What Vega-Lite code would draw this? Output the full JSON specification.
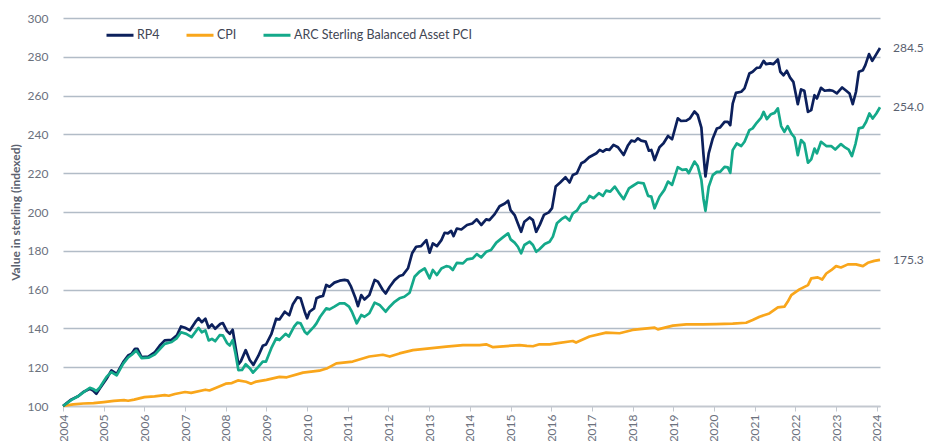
{
"$schema": "https://vega.github.io/schema/vega-lite/v6.json",
"width": 817, "height": 388,
"autosize": {"type": "none"},
"padding": {"left": 63, "top": 18, "right": 45, "bottom": 35},
"background": "white",
"config": {"view": {"stroke": null}, "font": "Lato"},
"datasets": {
"lines": [
{"series":"CPI","year":2004.0,"value":100},{"series":"CPI","year":2004.25,"value":100.8},{"series":"CPI","year":2004.5,"value":101.3},{"series":"CPI","year":2004.75,"value":101.5},{"series":"CPI","year":2005.0,"value":102},{"series":"CPI","year":2005.25,"value":102.6},{"series":"CPI","year":2005.5,"value":103},{"series":"CPI","year":2005.6,"value":102.7},{"series":"CPI","year":2005.75,"value":103.3},{"series":"CPI","year":2006.0,"value":104.6},{"series":"CPI","year":2006.25,"value":105},{"series":"CPI","year":2006.5,"value":105.6},{"series":"CPI","year":2006.6,"value":105.3},{"series":"CPI","year":2006.75,"value":106.2},{"series":"CPI","year":2007.0,"value":107.2},{"series":"CPI","year":2007.15,"value":106.8},{"series":"CPI","year":2007.5,"value":108.4},{"series":"CPI","year":2007.6,"value":108},{"series":"CPI","year":2007.75,"value":109.3},{"series":"CPI","year":2008.0,"value":111.5},{"series":"CPI","year":2008.15,"value":111.8},{"series":"CPI","year":2008.3,"value":113.2},{"series":"CPI","year":2008.5,"value":112.5},{"series":"CPI","year":2008.62,"value":111.5},{"series":"CPI","year":2008.75,"value":112.6},{"series":"CPI","year":2009.0,"value":113.5},{"series":"CPI","year":2009.32,"value":115},{"series":"CPI","year":2009.5,"value":114.8},{"series":"CPI","year":2009.9,"value":117.2},{"series":"CPI","year":2010.3,"value":118.2},{"series":"CPI","year":2010.5,"value":119.5},{"series":"CPI","year":2010.72,"value":122},{"series":"CPI","year":2011.12,"value":122.9},{"series":"CPI","year":2011.53,"value":125.5},{"series":"CPI","year":2011.86,"value":126.4},{"series":"CPI","year":2012.03,"value":125.5},{"series":"CPI","year":2012.27,"value":127.1},{"series":"CPI","year":2012.6,"value":128.8},{"series":"CPI","year":2013.01,"value":129.7},{"series":"CPI","year":2013.42,"value":130.6},{"series":"CPI","year":2013.83,"value":131.4},{"series":"CPI","year":2014.24,"value":131.4},{"series":"CPI","year":2014.4,"value":131.8},{"series":"CPI","year":2014.57,"value":130.3},{"series":"CPI","year":2014.9,"value":130.9},{"series":"CPI","year":2015.22,"value":131.4},{"series":"CPI","year":2015.4,"value":131},{"series":"CPI","year":2015.55,"value":130.8},{"series":"CPI","year":2015.71,"value":131.8},{"series":"CPI","year":2015.96,"value":131.8},{"series":"CPI","year":2016.12,"value":132.3},{"series":"CPI","year":2016.53,"value":133.5},{"series":"CPI","year":2016.61,"value":132.7},{"series":"CPI","year":2016.94,"value":135.8},{"series":"CPI","year":2017.35,"value":137.8},{"series":"CPI","year":2017.68,"value":137.5},{"series":"CPI","year":2018.0,"value":139.2},{"series":"CPI","year":2018.54,"value":140.4},{"series":"CPI","year":2018.62,"value":139.5},{"series":"CPI","year":2018.99,"value":141.4},{"series":"CPI","year":2019.32,"value":142.1},{"series":"CPI","year":2019.73,"value":142.1},{"series":"CPI","year":2020.05,"value":142.2},{"series":"CPI","year":2020.46,"value":142.5},{"series":"CPI","year":2020.79,"value":142.9},{"series":"CPI","year":2020.95,"value":144.3},{"series":"CPI","year":2021.12,"value":146},{"series":"CPI","year":2021.36,"value":147.7},{"series":"CPI","year":2021.57,"value":150.8},{"series":"CPI","year":2021.73,"value":151.2},{"series":"CPI","year":2021.81,"value":153.7},{"series":"CPI","year":2021.9,"value":157.2},{"series":"CPI","year":2022.1,"value":160.1},{"series":"CPI","year":2022.31,"value":162.3},{"series":"CPI","year":2022.39,"value":165.8},{"series":"CPI","year":2022.55,"value":166.3},{"series":"CPI","year":2022.66,"value":165.2},{"series":"CPI","year":2022.76,"value":168.3},{"series":"CPI","year":2022.88,"value":170},{"series":"CPI","year":2023.0,"value":172.1},{"series":"CPI","year":2023.12,"value":171.4},{"series":"CPI","year":2023.29,"value":173},{"series":"CPI","year":2023.49,"value":173},{"series":"CPI","year":2023.66,"value":172.1},{"series":"CPI","year":2023.78,"value":173.8},{"series":"CPI","year":2023.94,"value":174.8},{"series":"CPI","year":2024.08,"value":175.3},
{"series":"RP4","year":2004.0,"value":100},{"series":"RP4","year":2004.2,"value":103.3},{"series":"RP4","year":2004.37,"value":105},{"series":"RP4","year":2004.5,"value":107.2},{"series":"RP4","year":2004.66,"value":108.9},{"series":"RP4","year":2004.74,"value":108},{"series":"RP4","year":2004.82,"value":106.3},{"series":"RP4","year":2004.9,"value":108.9},{"series":"RP4","year":2005.07,"value":114},{"series":"RP4","year":2005.19,"value":118.4},{"series":"RP4","year":2005.32,"value":116.6},{"series":"RP4","year":2005.48,"value":122.6},{"series":"RP4","year":2005.6,"value":126},{"series":"RP4","year":2005.69,"value":127},{"series":"RP4","year":2005.77,"value":129.5},{"series":"RP4","year":2005.83,"value":129.5},{"series":"RP4","year":2005.93,"value":125.2},{"series":"RP4","year":2006.1,"value":125.5},{"series":"RP4","year":2006.26,"value":127.8},{"series":"RP4","year":2006.38,"value":131.2},{"series":"RP4","year":2006.5,"value":133.8},{"series":"RP4","year":2006.67,"value":134.1},{"series":"RP4","year":2006.8,"value":136.4},{"series":"RP4","year":2006.9,"value":141},{"series":"RP4","year":2007.0,"value":140.3},{"series":"RP4","year":2007.12,"value":139},{"series":"RP4","year":2007.25,"value":143.2},{"series":"RP4","year":2007.33,"value":145.3},{"series":"RP4","year":2007.41,"value":143.2},{"series":"RP4","year":2007.5,"value":145},{"series":"RP4","year":2007.58,"value":140.3},{"series":"RP4","year":2007.66,"value":142},{"series":"RP4","year":2007.74,"value":139.8},{"series":"RP4","year":2007.87,"value":142.4},{"series":"RP4","year":2007.93,"value":142.7},{"series":"RP4","year":2008.03,"value":138.6},{"series":"RP4","year":2008.1,"value":137.2},{"series":"RP4","year":2008.17,"value":139.3},{"series":"RP4","year":2008.24,"value":130.4},{"series":"RP4","year":2008.31,"value":121.5},{"series":"RP4","year":2008.37,"value":123},{"series":"RP4","year":2008.49,"value":128.8},{"series":"RP4","year":2008.59,"value":123.7},{"series":"RP4","year":2008.68,"value":121.2},{"series":"RP4","year":2008.8,"value":125.8},{"series":"RP4","year":2008.91,"value":131},{"series":"RP4","year":2008.99,"value":131.7},{"series":"RP4","year":2009.12,"value":137},{"series":"RP4","year":2009.24,"value":145},{"series":"RP4","year":2009.32,"value":144.6},{"series":"RP4","year":2009.45,"value":148.6},{"series":"RP4","year":2009.56,"value":146.8},{"series":"RP4","year":2009.65,"value":152.5},{"series":"RP4","year":2009.76,"value":156},{"series":"RP4","year":2009.84,"value":155.5},{"series":"RP4","year":2009.94,"value":148.6},{"series":"RP4","year":2010.0,"value":145.2},{"series":"RP4","year":2010.06,"value":148.6},{"series":"RP4","year":2010.17,"value":150.3},{"series":"RP4","year":2010.23,"value":155.5},{"series":"RP4","year":2010.32,"value":156.4},{"series":"RP4","year":2010.39,"value":156.7},{"series":"RP4","year":2010.47,"value":162.4},{"series":"RP4","year":2010.55,"value":161.5},{"series":"RP4","year":2010.67,"value":163.6},{"series":"RP4","year":2010.8,"value":164.6},{"series":"RP4","year":2010.92,"value":165},{"series":"RP4","year":2011.0,"value":164.6},{"series":"RP4","year":2011.08,"value":161.5},{"series":"RP4","year":2011.19,"value":155.5},{"series":"RP4","year":2011.25,"value":151.5},{"series":"RP4","year":2011.33,"value":157.2},{"series":"RP4","year":2011.41,"value":154.9},{"series":"RP4","year":2011.53,"value":157.2},{"series":"RP4","year":2011.66,"value":165},{"series":"RP4","year":2011.74,"value":164.1},{"series":"RP4","year":2011.86,"value":159.8},{"series":"RP4","year":2011.93,"value":158},{"series":"RP4","year":2012.03,"value":161.5},{"series":"RP4","year":2012.15,"value":164.9},{"series":"RP4","year":2012.27,"value":167},{"series":"RP4","year":2012.35,"value":167.5},{"series":"RP4","year":2012.48,"value":171},{"series":"RP4","year":2012.58,"value":178.7},{"series":"RP4","year":2012.68,"value":182.1},{"series":"RP4","year":2012.8,"value":182.4},{"series":"RP4","year":2012.93,"value":185.5},{"series":"RP4","year":2013.01,"value":179},{"series":"RP4","year":2013.09,"value":183.8},{"series":"RP4","year":2013.19,"value":182.4},{"series":"RP4","year":2013.3,"value":185.5},{"series":"RP4","year":2013.38,"value":189.3},{"series":"RP4","year":2013.46,"value":189},{"series":"RP4","year":2013.54,"value":190.3},{"series":"RP4","year":2013.6,"value":187.6},{"series":"RP4","year":2013.68,"value":191.5},{"series":"RP4","year":2013.79,"value":191},{"series":"RP4","year":2013.93,"value":193.3},{"series":"RP4","year":2014.06,"value":194.1},{"series":"RP4","year":2014.17,"value":196.2},{"series":"RP4","year":2014.28,"value":193.3},{"series":"RP4","year":2014.4,"value":196.2},{"series":"RP4","year":2014.48,"value":195.8},{"series":"RP4","year":2014.61,"value":198.9},{"series":"RP4","year":2014.73,"value":203},{"series":"RP4","year":2014.86,"value":204.4},{"series":"RP4","year":2014.94,"value":205.8},{"series":"RP4","year":2015.0,"value":201},{"series":"RP4","year":2015.1,"value":198.4},{"series":"RP4","year":2015.18,"value":194.1},{"series":"RP4","year":2015.26,"value":189.8},{"series":"RP4","year":2015.34,"value":195},{"series":"RP4","year":2015.47,"value":197.2},{"series":"RP4","year":2015.55,"value":195.8},{"series":"RP4","year":2015.63,"value":189.8},{"series":"RP4","year":2015.72,"value":193.5},{"series":"RP4","year":2015.82,"value":198.5},{"series":"RP4","year":2015.94,"value":199.8},{"series":"RP4","year":2016.02,"value":202},{"series":"RP4","year":2016.11,"value":213.1},{"series":"RP4","year":2016.22,"value":215.2},{"series":"RP4","year":2016.35,"value":217.9},{"series":"RP4","year":2016.45,"value":215.2},{"series":"RP4","year":2016.53,"value":219.1},{"series":"RP4","year":2016.63,"value":220},{"series":"RP4","year":2016.74,"value":225.1},{"series":"RP4","year":2016.82,"value":226},{"series":"RP4","year":2016.93,"value":228.2},{"series":"RP4","year":2017.11,"value":230.3},{"series":"RP4","year":2017.19,"value":232},{"series":"RP4","year":2017.27,"value":231.1},{"series":"RP4","year":2017.35,"value":232.3},{"series":"RP4","year":2017.43,"value":232},{"series":"RP4","year":2017.53,"value":234.6},{"series":"RP4","year":2017.64,"value":233.4},{"series":"RP4","year":2017.78,"value":229.4},{"series":"RP4","year":2017.88,"value":234.1},{"series":"RP4","year":2017.97,"value":236.8},{"series":"RP4","year":2018.05,"value":236.3},{"series":"RP4","year":2018.13,"value":238},{"series":"RP4","year":2018.21,"value":236.8},{"series":"RP4","year":2018.32,"value":236.3},{"series":"RP4","year":2018.4,"value":231.6},{"series":"RP4","year":2018.46,"value":232},{"series":"RP4","year":2018.54,"value":226.8},{"series":"RP4","year":2018.66,"value":233.4},{"series":"RP4","year":2018.76,"value":235.4},{"series":"RP4","year":2018.87,"value":239.2},{"series":"RP4","year":2018.97,"value":237.5},{"series":"RP4","year":2019.11,"value":248.3},{"series":"RP4","year":2019.19,"value":246.9},{"series":"RP4","year":2019.32,"value":247.1},{"series":"RP4","year":2019.41,"value":248.3},{"series":"RP4","year":2019.52,"value":251.8},{"series":"RP4","year":2019.6,"value":250},{"series":"RP4","year":2019.69,"value":243.5},{"series":"RP4","year":2019.74,"value":230},{"series":"RP4","year":2019.79,"value":218.3},{"series":"RP4","year":2019.87,"value":230.2},{"series":"RP4","year":2019.97,"value":237.9},{"series":"RP4","year":2020.07,"value":243},{"series":"RP4","year":2020.15,"value":243.6},{"series":"RP4","year":2020.26,"value":246.5},{"series":"RP4","year":2020.34,"value":246.5},{"series":"RP4","year":2020.4,"value":244.8},{"series":"RP4","year":2020.46,"value":255.9},{"series":"RP4","year":2020.54,"value":261.4},{"series":"RP4","year":2020.67,"value":262},{"series":"RP4","year":2020.75,"value":263.7},{"series":"RP4","year":2020.87,"value":271.4},{"series":"RP4","year":2020.95,"value":272.3},{"series":"RP4","year":2021.05,"value":274.3},{"series":"RP4","year":2021.13,"value":274.5},{"series":"RP4","year":2021.22,"value":277.9},{"series":"RP4","year":2021.28,"value":276.2},{"series":"RP4","year":2021.38,"value":276.6},{"series":"RP4","year":2021.46,"value":276.2},{"series":"RP4","year":2021.57,"value":278.6},{"series":"RP4","year":2021.63,"value":272.3},{"series":"RP4","year":2021.71,"value":270.5},{"series":"RP4","year":2021.79,"value":272.8},{"series":"RP4","year":2021.87,"value":269.3},{"series":"RP4","year":2021.95,"value":267.1},{"series":"RP4","year":2022.06,"value":255.6},{"series":"RP4","year":2022.14,"value":263.2},{"series":"RP4","year":2022.22,"value":262.5},{"series":"RP4","year":2022.31,"value":251.6},{"series":"RP4","year":2022.39,"value":252.5},{"series":"RP4","year":2022.47,"value":260.2},{"series":"RP4","year":2022.53,"value":258.5},{"series":"RP4","year":2022.63,"value":264},{"series":"RP4","year":2022.72,"value":262.5},{"series":"RP4","year":2022.84,"value":262.8},{"series":"RP4","year":2022.92,"value":262.5},{"series":"RP4","year":2023.02,"value":261.1},{"series":"RP4","year":2023.15,"value":264.2},{"series":"RP4","year":2023.25,"value":262.5},{"series":"RP4","year":2023.33,"value":261.1},{"series":"RP4","year":2023.41,"value":255.6},{"series":"RP4","year":2023.49,"value":262},{"series":"RP4","year":2023.56,"value":272.3},{"series":"RP4","year":2023.66,"value":273.1},{"series":"RP4","year":2023.72,"value":275.7},{"series":"RP4","year":2023.81,"value":281.4},{"series":"RP4","year":2023.89,"value":277.9},{"series":"RP4","year":2023.99,"value":281.4},{"series":"RP4","year":2024.08,"value":284.5},
{"series":"ARC Sterling Balanced Asset PCI","year":2004.0,"value":100},{"series":"ARC Sterling Balanced Asset PCI","year":2004.2,"value":103},{"series":"ARC Sterling Balanced Asset PCI","year":2004.37,"value":105},{"series":"ARC Sterling Balanced Asset PCI","year":2004.5,"value":107},{"series":"ARC Sterling Balanced Asset PCI","year":2004.66,"value":109.4},{"series":"ARC Sterling Balanced Asset PCI","year":2004.74,"value":108.8},{"series":"ARC Sterling Balanced Asset PCI","year":2004.82,"value":107.7},{"series":"ARC Sterling Balanced Asset PCI","year":2004.9,"value":109.4},{"series":"ARC Sterling Balanced Asset PCI","year":2005.07,"value":115},{"series":"ARC Sterling Balanced Asset PCI","year":2005.19,"value":117.5},{"series":"ARC Sterling Balanced Asset PCI","year":2005.32,"value":115.8},{"series":"ARC Sterling Balanced Asset PCI","year":2005.48,"value":121.8},{"series":"ARC Sterling Balanced Asset PCI","year":2005.6,"value":125},{"series":"ARC Sterling Balanced Asset PCI","year":2005.69,"value":126.4},{"series":"ARC Sterling Balanced Asset PCI","year":2005.8,"value":128.6},{"series":"ARC Sterling Balanced Asset PCI","year":2005.93,"value":124.7},{"series":"ARC Sterling Balanced Asset PCI","year":2006.1,"value":124.9},{"series":"ARC Sterling Balanced Asset PCI","year":2006.26,"value":126.6},{"series":"ARC Sterling Balanced Asset PCI","year":2006.5,"value":132},{"series":"ARC Sterling Balanced Asset PCI","year":2006.67,"value":133},{"series":"ARC Sterling Balanced Asset PCI","year":2006.8,"value":135},{"series":"ARC Sterling Balanced Asset PCI","year":2006.9,"value":138},{"series":"ARC Sterling Balanced Asset PCI","year":2007.03,"value":137.2},{"series":"ARC Sterling Balanced Asset PCI","year":2007.16,"value":135.5},{"series":"ARC Sterling Balanced Asset PCI","year":2007.33,"value":140.3},{"series":"ARC Sterling Balanced Asset PCI","year":2007.41,"value":138},{"series":"ARC Sterling Balanced Asset PCI","year":2007.5,"value":139},{"series":"ARC Sterling Balanced Asset PCI","year":2007.58,"value":133.8},{"series":"ARC Sterling Balanced Asset PCI","year":2007.66,"value":134.6},{"series":"ARC Sterling Balanced Asset PCI","year":2007.74,"value":133.4},{"series":"ARC Sterling Balanced Asset PCI","year":2007.85,"value":136.5},{"series":"ARC Sterling Balanced Asset PCI","year":2007.93,"value":136.4},{"series":"ARC Sterling Balanced Asset PCI","year":2008.03,"value":132.5},{"series":"ARC Sterling Balanced Asset PCI","year":2008.1,"value":131.2},{"series":"ARC Sterling Balanced Asset PCI","year":2008.17,"value":134},{"series":"ARC Sterling Balanced Asset PCI","year":2008.24,"value":126.9},{"series":"ARC Sterling Balanced Asset PCI","year":2008.31,"value":118.5},{"series":"ARC Sterling Balanced Asset PCI","year":2008.4,"value":118.6},{"series":"ARC Sterling Balanced Asset PCI","year":2008.49,"value":121.5},{"series":"ARC Sterling Balanced Asset PCI","year":2008.59,"value":119.5},{"series":"ARC Sterling Balanced Asset PCI","year":2008.67,"value":117.2},{"series":"ARC Sterling Balanced Asset PCI","year":2008.8,"value":120.2},{"series":"ARC Sterling Balanced Asset PCI","year":2008.91,"value":122.9},{"series":"ARC Sterling Balanced Asset PCI","year":2008.99,"value":122.9},{"series":"ARC Sterling Balanced Asset PCI","year":2009.12,"value":129.8},{"series":"ARC Sterling Balanced Asset PCI","year":2009.24,"value":134.9},{"series":"ARC Sterling Balanced Asset PCI","year":2009.32,"value":134},{"series":"ARC Sterling Balanced Asset PCI","year":2009.47,"value":137.2},{"series":"ARC Sterling Balanced Asset PCI","year":2009.55,"value":135.8},{"series":"ARC Sterling Balanced Asset PCI","year":2009.68,"value":140.9},{"series":"ARC Sterling Balanced Asset PCI","year":2009.76,"value":143},{"series":"ARC Sterling Balanced Asset PCI","year":2009.84,"value":142.6},{"series":"ARC Sterling Balanced Asset PCI","year":2009.94,"value":138.3},{"series":"ARC Sterling Balanced Asset PCI","year":2010.0,"value":137.1},{"series":"ARC Sterling Balanced Asset PCI","year":2010.17,"value":140.9},{"series":"ARC Sterling Balanced Asset PCI","year":2010.23,"value":142.6},{"series":"ARC Sterling Balanced Asset PCI","year":2010.32,"value":146},{"series":"ARC Sterling Balanced Asset PCI","year":2010.47,"value":150.3},{"series":"ARC Sterling Balanced Asset PCI","year":2010.55,"value":149.8},{"series":"ARC Sterling Balanced Asset PCI","year":2010.67,"value":151.2},{"series":"ARC Sterling Balanced Asset PCI","year":2010.8,"value":152.9},{"series":"ARC Sterling Balanced Asset PCI","year":2010.92,"value":152.9},{"series":"ARC Sterling Balanced Asset PCI","year":2011.03,"value":151.2},{"series":"ARC Sterling Balanced Asset PCI","year":2011.1,"value":148.6},{"series":"ARC Sterling Balanced Asset PCI","year":2011.22,"value":142.6},{"series":"ARC Sterling Balanced Asset PCI","year":2011.33,"value":146.9},{"series":"ARC Sterling Balanced Asset PCI","year":2011.41,"value":146},{"series":"ARC Sterling Balanced Asset PCI","year":2011.53,"value":147.8},{"series":"ARC Sterling Balanced Asset PCI","year":2011.66,"value":153.3},{"series":"ARC Sterling Balanced Asset PCI","year":2011.78,"value":152.1},{"series":"ARC Sterling Balanced Asset PCI","year":2011.93,"value":148.6},{"series":"ARC Sterling Balanced Asset PCI","year":2012.03,"value":151.2},{"series":"ARC Sterling Balanced Asset PCI","year":2012.15,"value":153.7},{"series":"ARC Sterling Balanced Asset PCI","year":2012.27,"value":155.5},{"series":"ARC Sterling Balanced Asset PCI","year":2012.39,"value":156.3},{"series":"ARC Sterling Balanced Asset PCI","year":2012.52,"value":158.4},{"series":"ARC Sterling Balanced Asset PCI","year":2012.64,"value":166.6},{"series":"ARC Sterling Balanced Asset PCI","year":2012.76,"value":169.2},{"series":"ARC Sterling Balanced Asset PCI","year":2012.89,"value":170.9},{"series":"ARC Sterling Balanced Asset PCI","year":2013.01,"value":165.8},{"series":"ARC Sterling Balanced Asset PCI","year":2013.09,"value":170.1},{"series":"ARC Sterling Balanced Asset PCI","year":2013.19,"value":167.5},{"series":"ARC Sterling Balanced Asset PCI","year":2013.3,"value":170.9},{"series":"ARC Sterling Balanced Asset PCI","year":2013.42,"value":172.1},{"series":"ARC Sterling Balanced Asset PCI","year":2013.5,"value":171.8},{"series":"ARC Sterling Balanced Asset PCI","year":2013.58,"value":170.1},{"series":"ARC Sterling Balanced Asset PCI","year":2013.68,"value":173.8},{"series":"ARC Sterling Balanced Asset PCI","year":2013.83,"value":173.5},{"series":"ARC Sterling Balanced Asset PCI","year":2013.93,"value":175.6},{"series":"ARC Sterling Balanced Asset PCI","year":2014.07,"value":176.1},{"series":"ARC Sterling Balanced Asset PCI","year":2014.17,"value":178.3},{"series":"ARC Sterling Balanced Asset PCI","year":2014.28,"value":176.6},{"series":"ARC Sterling Balanced Asset PCI","year":2014.4,"value":179.5},{"series":"ARC Sterling Balanced Asset PCI","year":2014.52,"value":180.4},{"series":"ARC Sterling Balanced Asset PCI","year":2014.65,"value":184.2},{"series":"ARC Sterling Balanced Asset PCI","year":2014.81,"value":186.9},{"series":"ARC Sterling Balanced Asset PCI","year":2014.94,"value":189},{"series":"ARC Sterling Balanced Asset PCI","year":2015.0,"value":185.9},{"series":"ARC Sterling Balanced Asset PCI","year":2015.1,"value":184.2},{"series":"ARC Sterling Balanced Asset PCI","year":2015.18,"value":182.1},{"series":"ARC Sterling Balanced Asset PCI","year":2015.26,"value":178.7},{"series":"ARC Sterling Balanced Asset PCI","year":2015.34,"value":183},{"series":"ARC Sterling Balanced Asset PCI","year":2015.47,"value":184.7},{"series":"ARC Sterling Balanced Asset PCI","year":2015.55,"value":183},{"series":"ARC Sterling Balanced Asset PCI","year":2015.63,"value":179.5},{"series":"ARC Sterling Balanced Asset PCI","year":2015.71,"value":180.8},{"series":"ARC Sterling Balanced Asset PCI","year":2015.84,"value":183.5},{"series":"ARC Sterling Balanced Asset PCI","year":2015.96,"value":184.7},{"series":"ARC Sterling Balanced Asset PCI","year":2016.04,"value":187.3},{"series":"ARC Sterling Balanced Asset PCI","year":2016.14,"value":194.2},{"series":"ARC Sterling Balanced Asset PCI","year":2016.25,"value":196.3},{"series":"ARC Sterling Balanced Asset PCI","year":2016.35,"value":197.6},{"series":"ARC Sterling Balanced Asset PCI","year":2016.45,"value":195.6},{"series":"ARC Sterling Balanced Asset PCI","year":2016.53,"value":199.3},{"series":"ARC Sterling Balanced Asset PCI","year":2016.63,"value":200.7},{"series":"ARC Sterling Balanced Asset PCI","year":2016.74,"value":204.2},{"series":"ARC Sterling Balanced Asset PCI","year":2016.86,"value":205.4},{"series":"ARC Sterling Balanced Asset PCI","year":2016.94,"value":208.3},{"series":"ARC Sterling Balanced Asset PCI","year":2017.04,"value":207.1},{"series":"ARC Sterling Balanced Asset PCI","year":2017.17,"value":209.7},{"series":"ARC Sterling Balanced Asset PCI","year":2017.27,"value":208.3},{"series":"ARC Sterling Balanced Asset PCI","year":2017.35,"value":211},{"series":"ARC Sterling Balanced Asset PCI","year":2017.45,"value":210.5},{"series":"ARC Sterling Balanced Asset PCI","year":2017.56,"value":213.1},{"series":"ARC Sterling Balanced Asset PCI","year":2017.66,"value":210},{"series":"ARC Sterling Balanced Asset PCI","year":2017.78,"value":206.6},{"series":"ARC Sterling Balanced Asset PCI","year":2017.91,"value":212.2},{"series":"ARC Sterling Balanced Asset PCI","year":2018.0,"value":213.4},{"series":"ARC Sterling Balanced Asset PCI","year":2018.13,"value":215.2},{"series":"ARC Sterling Balanced Asset PCI","year":2018.27,"value":214.8},{"series":"ARC Sterling Balanced Asset PCI","year":2018.38,"value":208.3},{"series":"ARC Sterling Balanced Asset PCI","year":2018.46,"value":207.9},{"series":"ARC Sterling Balanced Asset PCI","year":2018.54,"value":201.9},{"series":"ARC Sterling Balanced Asset PCI","year":2018.66,"value":207.9},{"series":"ARC Sterling Balanced Asset PCI","year":2018.78,"value":211.4},{"series":"ARC Sterling Balanced Asset PCI","year":2018.87,"value":215.7},{"series":"ARC Sterling Balanced Asset PCI","year":2018.97,"value":214},{"series":"ARC Sterling Balanced Asset PCI","year":2019.11,"value":223.1},{"series":"ARC Sterling Balanced Asset PCI","year":2019.22,"value":221.7},{"series":"ARC Sterling Balanced Asset PCI","year":2019.32,"value":222},{"series":"ARC Sterling Balanced Asset PCI","year":2019.38,"value":220},{"series":"ARC Sterling Balanced Asset PCI","year":2019.52,"value":226},{"series":"ARC Sterling Balanced Asset PCI","year":2019.6,"value":223.7},{"series":"ARC Sterling Balanced Asset PCI","year":2019.69,"value":216.5},{"series":"ARC Sterling Balanced Asset PCI","year":2019.74,"value":207},{"series":"ARC Sterling Balanced Asset PCI","year":2019.79,"value":200.6},{"series":"ARC Sterling Balanced Asset PCI","year":2019.87,"value":213},{"series":"ARC Sterling Balanced Asset PCI","year":2019.97,"value":219},{"series":"ARC Sterling Balanced Asset PCI","year":2020.07,"value":220.7},{"series":"ARC Sterling Balanced Asset PCI","year":2020.15,"value":220.7},{"series":"ARC Sterling Balanced Asset PCI","year":2020.26,"value":223.3},{"series":"ARC Sterling Balanced Asset PCI","year":2020.34,"value":223},{"series":"ARC Sterling Balanced Asset PCI","year":2020.4,"value":220.2},{"series":"ARC Sterling Balanced Asset PCI","year":2020.46,"value":231.9},{"series":"ARC Sterling Balanced Asset PCI","year":2020.56,"value":235.3},{"series":"ARC Sterling Balanced Asset PCI","year":2020.67,"value":234},{"series":"ARC Sterling Balanced Asset PCI","year":2020.75,"value":236.2},{"series":"ARC Sterling Balanced Asset PCI","year":2020.87,"value":242.2},{"series":"ARC Sterling Balanced Asset PCI","year":2020.95,"value":243.1},{"series":"ARC Sterling Balanced Asset PCI","year":2021.05,"value":246},{"series":"ARC Sterling Balanced Asset PCI","year":2021.16,"value":248.7},{"series":"ARC Sterling Balanced Asset PCI","year":2021.22,"value":251.6},{"series":"ARC Sterling Balanced Asset PCI","year":2021.3,"value":247.9},{"series":"ARC Sterling Balanced Asset PCI","year":2021.4,"value":250.4},{"series":"ARC Sterling Balanced Asset PCI","year":2021.49,"value":251.1},{"series":"ARC Sterling Balanced Asset PCI","year":2021.57,"value":253.4},{"series":"ARC Sterling Balanced Asset PCI","year":2021.65,"value":244.3},{"series":"ARC Sterling Balanced Asset PCI","year":2021.73,"value":241.3},{"series":"ARC Sterling Balanced Asset PCI","year":2021.81,"value":244.3},{"series":"ARC Sterling Balanced Asset PCI","year":2021.9,"value":240.5},{"series":"ARC Sterling Balanced Asset PCI","year":2021.98,"value":238.4},{"series":"ARC Sterling Balanced Asset PCI","year":2022.06,"value":229.3},{"series":"ARC Sterling Balanced Asset PCI","year":2022.14,"value":237.1},{"series":"ARC Sterling Balanced Asset PCI","year":2022.22,"value":235.3},{"series":"ARC Sterling Balanced Asset PCI","year":2022.31,"value":225.4},{"series":"ARC Sterling Balanced Asset PCI","year":2022.39,"value":227.1},{"series":"ARC Sterling Balanced Asset PCI","year":2022.47,"value":232.7},{"series":"ARC Sterling Balanced Asset PCI","year":2022.53,"value":230.2},{"series":"ARC Sterling Balanced Asset PCI","year":2022.63,"value":236.2},{"series":"ARC Sterling Balanced Asset PCI","year":2022.76,"value":234},{"series":"ARC Sterling Balanced Asset PCI","year":2022.88,"value":234},{"series":"ARC Sterling Balanced Asset PCI","year":2022.98,"value":232.2},{"series":"ARC Sterling Balanced Asset PCI","year":2023.12,"value":235},{"series":"ARC Sterling Balanced Asset PCI","year":2023.2,"value":233.6},{"series":"ARC Sterling Balanced Asset PCI","year":2023.31,"value":232.2},{"series":"ARC Sterling Balanced Asset PCI","year":2023.39,"value":228.8},{"series":"ARC Sterling Balanced Asset PCI","year":2023.48,"value":235.3},{"series":"ARC Sterling Balanced Asset PCI","year":2023.56,"value":243.1},{"series":"ARC Sterling Balanced Asset PCI","year":2023.66,"value":243.6},{"series":"ARC Sterling Balanced Asset PCI","year":2023.74,"value":246.5},{"series":"ARC Sterling Balanced Asset PCI","year":2023.82,"value":250.8},{"series":"ARC Sterling Balanced Asset PCI","year":2023.9,"value":248.2},{"series":"ARC Sterling Balanced Asset PCI","year":2023.99,"value":250.8},{"series":"ARC Sterling Balanced Asset PCI","year":2024.08,"value":254.0}
]
},
"data": {"name": "lines"},
"encoding": {
  "x": {"field": "year", "type": "quantitative",
        "scale": {"domain": [2004, 2024.08], "nice": false, "zero": false},
        "axis": {"values": [2004,2005,2006,2007,2008,2009,2010,2011,2012,2013,2014,2015,2016,2017,2018,2019,2020,2021,2022,2023,2024],
                 "format": "d", "labelAngle": -90, "grid": false, "title": null,
                 "domainColor": "#c3c8cf", "domainWidth": 1.5, "tickColor": "#c3c8cf", "tickSize": 5, "tickWidth": 1,
                 "labelPadding": 3, "labelColor": "#6b717d", "labelFontSize": 12, "labelFlush": false, "labelOverlap": false}},
  "y": {"field": "value", "type": "quantitative",
        "scale": {"domain": [100, 300], "nice": false, "zero": false},
        "axis": {"values": [100,120,140,160,180,200,220,240,260,280,300],
                 "title": "Value in sterling (indexed)", "titleFontWeight": "bold", "titleFontSize": 12, "titleColor": "#5b616e",
                 "titlePadding": 5, "domain": false, "ticks": false, "tickSize": 0, "labelPadding": 15,
                 "labelColor": "#6b717d", "labelFontSize": 12, "gridColor": "#b2bcc7", "gridWidth": 1.5}}
},
"layer": [
  {"mark": {"type": "line", "strokeWidth": 2.7, "strokeJoin": "round"},
   "encoding": {
     "color": {"field": "series", "type": "nominal",
       "scale": {"domain": ["RP4", "CPI", "ARC Sterling Balanced Asset PCI"], "range": ["#0c205c", "#f9a61b", "#14a98a"]},
       "legend": {"orient": "none", "legendX": 42, "legendY": 2, "direction": "horizontal", "title": null,
                  "symbolType": "stroke", "symbolSize": 729, "symbolStrokeWidth": 3, "padding": 0,
                  "labelFontSize": 12.5, "labelColor": "#3f4654", "labelOffset": 2, "labelLimit": 0, "columnPadding": 20}}
   }},
  {"transform": [{"filter": {"field": "year", "equal": 2024.08}}],
   "mark": {"type": "text", "align": "left", "baseline": "middle", "dx": 13, "fontSize": 12, "color": "#5a6170"},
   "encoding": {"text": {"field": "value", "type": "quantitative", "format": ".1f"}}}
]
}
